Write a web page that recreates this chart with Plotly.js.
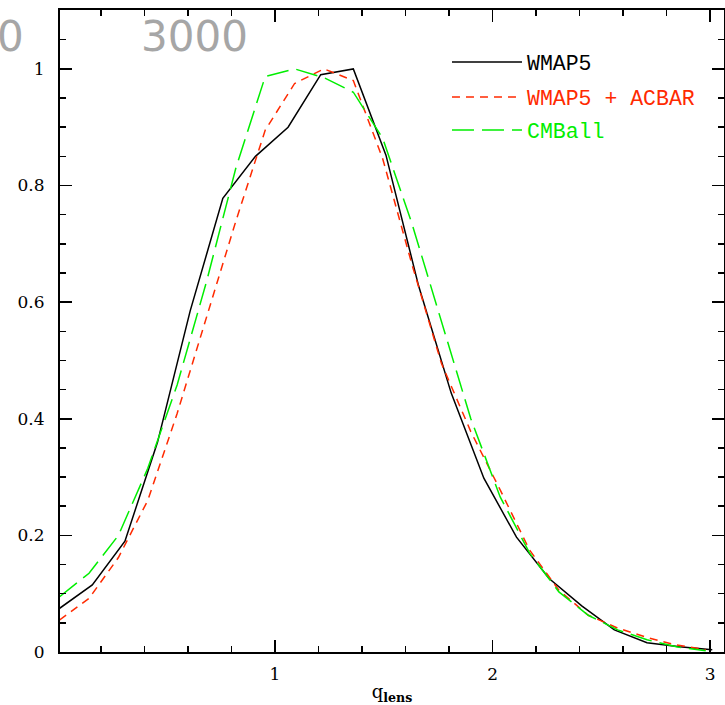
<!DOCTYPE html>
<html>
<head>
<meta charset="utf-8">
<script src="https://cdn.plot.ly/plotly-3.0.1.min.js"></script>
<style>html,body{margin:0;padding:0;background:#fff;}#chart{width:725px;height:705px;}</style>
</head>
<body>
<div id="chart"></div>
<script>
// WMAP5 (solid black)
const xWMAP5 = [0.01,0.16,0.31,0.46,0.61,0.76,0.91,1.06,1.21,1.36,1.51,1.66,1.81,1.96,2.11,2.26,2.41,2.56,2.71,2.86,3.01];
const yWMAP5 = [0.075,0.115,0.19,0.36,0.585,0.778,0.85,0.90,0.99,1.0,0.852,0.628,0.444,0.298,0.197,0.126,0.079,0.038,0.016,0.009,0.004];
// WMAP5 + ACBAR (red dashed) and CMBall (green long dash)
const xACBAR = [0.01,0.145,0.28,0.415,0.55,0.685,0.82,0.955,1.09,1.225,1.36,1.495,1.63,1.765,1.90,2.035,2.17,2.305,2.44,2.575,2.71,2.845,2.98];
const yACBAR = [0.055,0.092,0.162,0.26,0.409,0.573,0.739,0.895,0.975,1.0,0.98,0.846,0.664,0.495,0.378,0.278,0.175,0.106,0.063,0.041,0.025,0.012,0.004];
const xCMBall = [0.01,0.145,0.28,0.415,0.55,0.685,0.82,0.955,1.09,1.225,1.36,1.495,1.63,1.765,1.90,2.035,2.17,2.305,2.44,2.575,2.71,2.845,2.98];
const yCMBall = [0.095,0.135,0.20,0.315,0.458,0.635,0.83,0.987,1.0,0.985,0.96,0.881,0.734,0.567,0.40,0.266,0.17,0.103,0.063,0.038,0.021,0.009,0.002];
const seriesNames = ['WMAP5', 'WMAP5 + ACBAR', 'CMBall'];
const yTickVals = [0, 0.2, 0.4, 0.6, 0.8, 1];
const xTickVals = [1, 2, 3];
const ghostLabels = ['0', '3000'];

const RED = '#ff2a00', GREEN = '#00ee00';
const traces = [
  {x: xWMAP5, y: yWMAP5, mode: 'lines', name: seriesNames[0], legend: 'legend',
   line: {color: '#000', width: 1.5}},
  {x: xACBAR, y: yACBAR, mode: 'lines', name: '<span style="color:' + RED + '">' + seriesNames[1] + '</span>', legend: 'legend2',
   line: {color: RED, width: 1.5, dash: '8px,6px'}},
  {x: xCMBall, y: yCMBall, mode: 'lines', name: '<span style="color:' + GREEN + '">' + seriesNames[2] + '</span>', legend: 'legend3',
   line: {color: GREEN, width: 1.5, dash: '22px,8px'}}
];
const tickFont = {family: 'DejaVu Serif', size: 17, color: '#000'};
const legFont = {family: 'Liberation Mono', size: 21.5, color: '#000'};
const legBase = {xanchor: 'left', yanchor: 'middle', bgcolor: 'rgba(0,0,0,0)', borderwidth: 0, font: legFont, itemwidth: 70};
const axisBase = {
  showline: true, linewidth: 2, linecolor: '#000', mirror: 'allticks',
  ticks: 'inside', ticklen: 12, tickwidth: 1.5, tickcolor: '#000',
  showgrid: false, zeroline: false, tickfont: tickFont
};
const layout = {
  width: 725, height: 705,
  margin: {l: 60, r: 1, t: 10, b: 53},
  paper_bgcolor: '#fff', plot_bgcolor: '#fff',
  showlegend: true,
  xaxis: Object.assign({}, axisBase, {
    range: [0.0115, 3.064], tickvals: xTickVals, ticktext: xTickVals.map(String),
    minor: {dtick: 0.2, tick0: 0, ticks: 'inside', ticklen: 6, tickwidth: 1.5, tickcolor: '#000', showgrid: false},
    ticklabelstandoff: 6,
    title: {text: 'q<sub><b>lens</b></sub>', font: {family: 'DejaVu Serif', size: 18, color: '#000'}, standoff: 4}
  }),
  yaxis: Object.assign({}, axisBase, {
    range: [0, 1.101], tickvals: yTickVals, ticktext: yTickVals.map(String),
    minor: {dtick: 0.05, tick0: 0, ticks: 'inside', ticklen: 6, tickwidth: 1.5, tickcolor: '#000', showgrid: false},
    ticklabelstandoff: 10
  }),
  legend: Object.assign({}, legBase, {x: 0.5828, y: 0.919}),
  legend2: Object.assign({}, legBase, {x: 0.5828, y: 0.8645}),
  legend3: Object.assign({}, legBase, {x: 0.5828, y: 0.813}),
  annotations: [
    {text: ghostLabels[0], xref: 'paper', yref: 'paper', x: -0.074, y: 0.958, showarrow: false,
     font: {family: 'DejaVu Sans', size: 42, color: '#a6a6a6'}, xanchor: 'center', yanchor: 'middle'},
    {text: ghostLabels[1], xref: 'paper', yref: 'paper', x: 0.2033, y: 0.958, showarrow: false,
     font: {family: 'DejaVu Sans', size: 42, color: '#a6a6a6'}, xanchor: 'center', yanchor: 'middle'}
  ]
};
Plotly.newPlot('chart', traces, layout, {displayModeBar: false, staticPlot: true});
</script>
</body>
</html>
